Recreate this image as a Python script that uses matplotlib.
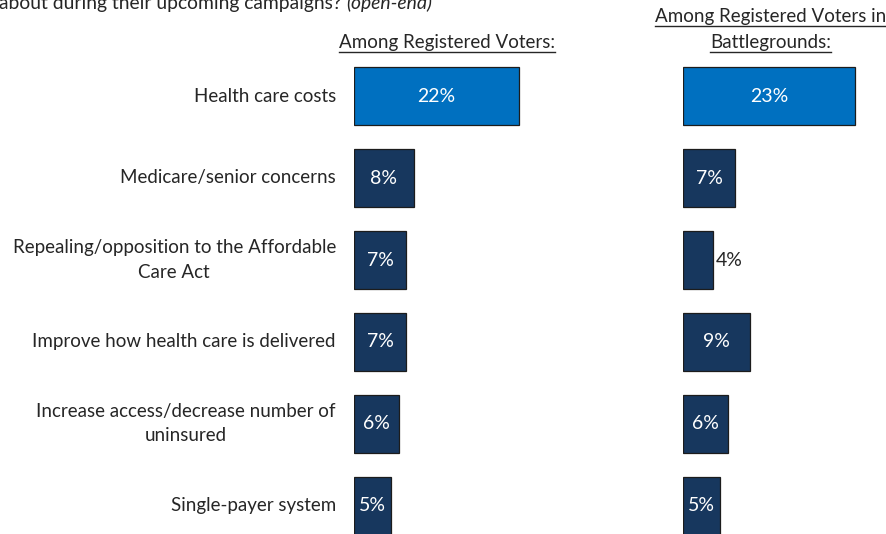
import matplotlib
matplotlib.use("Agg")
import matplotlib.pyplot as plt
from matplotlib.lines import Line2D

plt.rcParams["font.family"] = ["Lato", "DejaVu Sans"]

# ---- data -------------------------------------------------------------
categories = [
    "Health care costs",
    "Medicare/senior concerns",
    "Repealing/opposition to the Affordable\nCare Act",
    "Improve how health care is delivered",
    "Increase access/decrease number of\nuninsured",
    "Single-payer system",
]
registered_voters = [22, 8, 7, 7, 6, 5]
battleground_voters = [23, 7, 4, 9, 6, 5]
header_left = ["Among Registered Voters:"]
header_right = ["Among Registered Voters in", "Battlegrounds:"]
question_text = "about during their upcoming campaigns? "
question_tag = "(open-end)"

# ---- layout -----------------------------------------------------------
W, H = 887, 534
PX_PER_PT = 7.5      # pixels per percentage point
ROW = 82             # pixels between rows
TOP = 96             # centre of first row (px from top)
BAR_H = 58 / ROW
FS = 13.5
FS_VAL = 14
FS_Q = 13.9
TXT = "#262626"
LIGHT = "#0070C0"
NAVY = "#17375E"

fig = plt.figure(figsize=(W / 100, H / 100), dpi=100)


def make_axes(left_px, width_px):
    ax = fig.add_axes([left_px / W, 0, width_px / W, 1])
    ax.set_xlim(0, width_px / PX_PER_PT)
    ax.set_ylim((H - TOP) / ROW, -TOP / ROW)
    ax.axis("off")
    return ax


def draw_bars(ax, values):
    ys = list(range(len(values)))
    colors = [LIGHT] + [NAVY] * (len(values) - 1)
    ax.barh(ys, values, height=BAR_H, color=colors, edgecolor="#1c1c1c",
            linewidth=0.9, align="center")
    for y, v in zip(ys, values):
        label = f"{v}%"
        if v >= 5:
            ax.text(v / 2, y, label, ha="center", va="center",
                    color="white", fontsize=FS_VAL)
        else:
            ax.annotate(label, (v, y), xytext=(3, 0), textcoords="offset pixels",
                        ha="left", va="center", color=TXT, fontsize=FS_VAL)


ax_l = make_axes(354, 200)
ax_r = make_axes(683, 200)
draw_bars(ax_l, registered_voters)
draw_bars(ax_r, battleground_voters)

# category labels to the left of the first panel
for i, cat in enumerate(categories):
    ax_l.annotate(cat, (0, i), xytext=(-18, 0), textcoords="offset pixels",
                  ha="right", va="center", multialignment="center",
                  linespacing=1.5, color=TXT, fontsize=FS)


def fig_text(x_px, base_px, s, size=FS, **kw):
    return fig.text(x_px / W, 1 - base_px / H, s, va="baseline",
                    color=TXT, fontsize=size, **kw)


# column headers (underlined)
header_items = [fig_text(447, 48, header_left[0], ha="center")]
header_items.append(fig_text(771, 22, header_right[0], ha="center"))
header_items.append(fig_text(771, 48, header_right[1], ha="center"))

# question text, cut at the top edge
q1 = fig_text(-1, 9, question_text, size=FS_Q, ha="left")

fig.canvas.draw()
renderer = fig.canvas.get_renderer()
for t in header_items:
    bb = t.get_window_extent(renderer)
    base = t.get_position()[1] * H
    y = (base - 3.5) / H
    fig.add_artist(Line2D([bb.x0 / W, bb.x1 / W], [y, y], color=TXT,
                          linewidth=1.0, transform=fig.transFigure))

bb = q1.get_window_extent(renderer)
fig_text(bb.x1, 9, question_tag, size=FS_Q, ha="left", style="italic")

fig.savefig("out.png", dpi=100)
